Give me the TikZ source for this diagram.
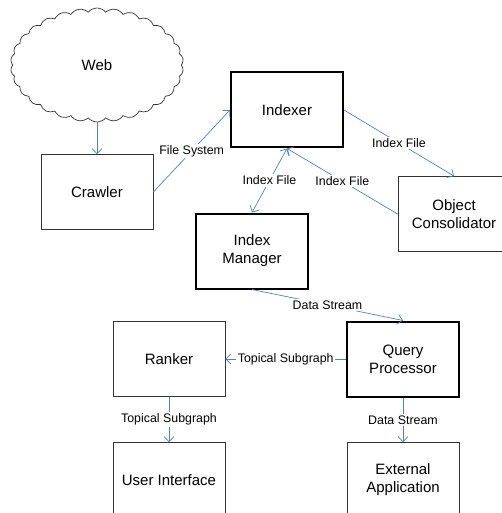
\documentclass[tikz,border=0pt]{standalone}
\usepackage{fontspec}
\setmainfont{Liberation Sans}
\usetikzlibrary{positioning,shapes.symbols,arrows.meta}
\definecolor{linkblue}{RGB}{79,129,189}

\begin{document}
\begin{tikzpicture}[
    x=1pt, y=1pt,
    on grid, % node distances from centre to centre
    node distance = 120pt
  ]

  \tikzstyle{block}=[rectangle, draw=black!80, line width=0.8pt,
    minimum width=112pt, minimum height=75pt, align=center,
    font=\fontsize{15}{18}\selectfont]
  \tikzstyle{mainblock}=[block, draw=black, line width=2pt]
  \tikzstyle{link}=[draw=linkblue, line width=0.7pt,
    -{Straight Barb[length=5pt,width=10pt]}] % open arrow head
  \tikzstyle{twoway}=[link,
    {Straight Barb[length=5pt,width=10pt]}-{Straight Barb[length=5pt,width=10pt]}]
  \tikzstyle{flow}=[font=\fontsize{12.4}{14}\selectfont, fill=white, inner sep=1.5pt]

  \useasboundingbox (0,0) rectangle (501,-513);

  \node[cloud, draw=black!80, line width=0.7pt, cloud puffs=30, cloud puff arc=100,
    cloud ignores aspect, minimum width=173pt, minimum height=114pt,
    font=\fontsize{15}{18}\selectfont] (web) at (97,-65) {Web};
  \node[block] (crawler) [below=127pt of web] {Crawler};
  \node[mainblock] (indexer) [above right=82pt and 190pt of crawler] {Indexer};
  \node[block] (consol) [below right=104pt and 167pt of indexer] {Object\\Consolidator};
  \node[mainblock] (im) [below left=141pt and 35pt of indexer] {Index\\Manager};
  \node[mainblock] (qp) [below right=108pt and 151pt of im] {Query\\Processor};
  \node[block] (ranker) [left=234pt of qp] {Ranker};
  \node[block] (ui) [below=121pt of ranker] {User Interface};
  \node[block] (ext) [below=121pt of qp] {External\\Application};

  \draw[link] (web.south) -- (crawler.north);
  \draw[link] (crawler.east) -- node[flow] {File System} (indexer.west);
  \draw[link] (indexer.east) -- node[flow] {Index File} (consol.north);
  \draw[twoway] (indexer.south) -- node[flow] {Index File} (im.north);
  \draw[link] (consol.west) -- node[flow] {Index File} (indexer.south);
  \draw[link] (im.south) -- node[flow] {Data Stream} (qp.north);
  \draw[link] (qp.west) -- node[flow] {Topical Subgraph} (ranker.east);
  \draw[link] (ranker.south) -- node[flow] {Topical Subgraph} (ui.north);
  \draw[link] (qp.south) -- node[flow] {Data Stream} (ext.north);

\end{tikzpicture}
\end{document}
